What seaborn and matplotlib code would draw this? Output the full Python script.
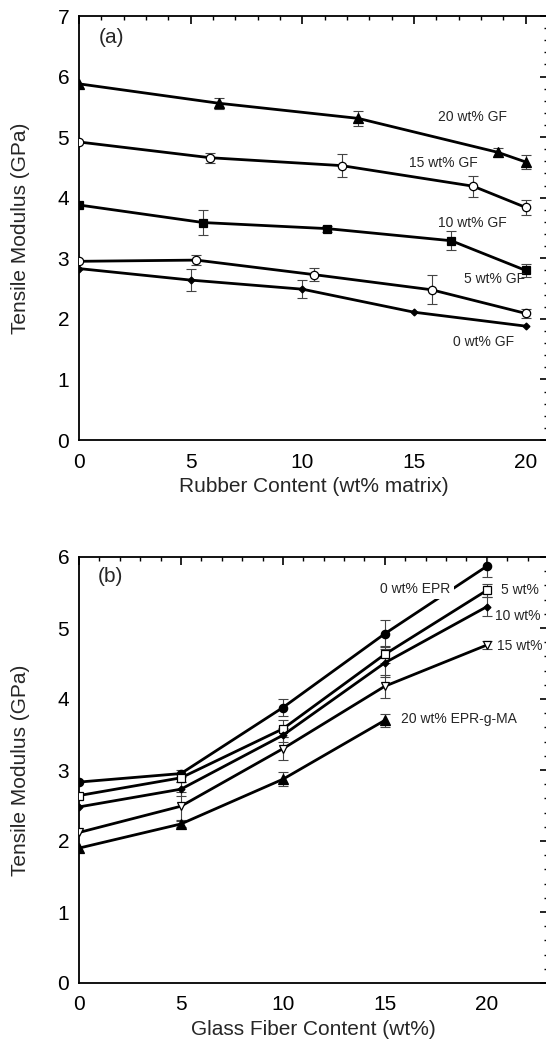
import numpy as np
import pandas as pd
import matplotlib
matplotlib.use("Agg")
import matplotlib.pyplot as plt
import seaborn as sns
from matplotlib.ticker import MultipleLocator

sns.set_theme(style="white")
plt.rcParams['font.family'] = ['Liberation Sans', 'DejaVu Sans']

# ---------------- Panel (a) data ----------------
a_labels = ["20 wt% GF", "15 wt% GF", "10 wt% GF", "5 wt% GF", "0 wt% GF"]
a_x_20 = [0, 6.25, 12.5, 18.75, 20]
a_x_15 = [0, 5.88, 11.76, 17.65, 20]
a_x_10 = [0, 5.56, 11.11, 16.67, 20]
a_x_5 = [0, 5.26, 10.53, 15.79, 20]
a_x_0 = [0, 5.0, 10.0, 15.0, 20]
a_y_20 = [5.88, 5.56, 5.31, 4.75, 4.59]
a_y_15 = [4.92, 4.66, 4.53, 4.19, 3.84]
a_y_10 = [3.88, 3.59, 3.49, 3.29, 2.80]
a_y_5 = [2.95, 2.97, 2.73, 2.48, 2.09]
a_y_0 = [2.83, 2.64, 2.49, 2.11, 1.88]
a_e_20 = [0, 0.09, 0.12, 0.07, 0.11]
a_e_15 = [0, 0.08, 0.19, 0.17, 0.12]
a_e_10 = [0, 0.20, 0.05, 0.16, 0.11]
a_e_5 = [0, 0.085, 0.11, 0.24, 0.08]
a_e_0 = [0, 0.18, 0.15, 0, 0]

# ---------------- Panel (b) data ----------------
b_labels = ["0 wt% EPR", "5 wt%", "10 wt%", "15 wt%", "20 wt% EPR-g-MA"]
b_x = [0, 5, 10, 15, 20]
b_y_0 = [2.83, 2.95, 3.88, 4.92, 5.87]
b_y_5 = [2.64, 2.89, 3.58, 4.63, 5.53]
b_y_10 = [2.48, 2.73, 3.49, 4.51, 5.30]
b_y_15 = [2.12, 2.49, 3.30, 4.18, 4.76]
b_y_20 = [1.90, 2.24, 2.87, 3.70, np.nan]
b_e_0 = [0, 0.05, 0.12, 0.19, 0.15]
b_e_5 = [0, 0.06, 0.12, 0.12, 0.09]
b_e_10 = [0, 0.10, 0.10, 0.20, 0.13]
b_e_15 = [0, 0.20, 0.16, 0.16, 0.06]
b_e_20 = [0, 0.04, 0.10, 0.09, 0]

styles = [
    dict(marker="^", ms=7, mfc="black"),
    dict(marker="o", ms=6, mfc="white"),
    dict(marker="s", ms=6, mfc="black"),
    dict(marker="o", ms=6, mfc="white"),
    dict(marker="D", ms=3.5, mfc="black"),
]
styles_b = [
    dict(marker="o", ms=6, mfc="black"),
    dict(marker="s", ms=6, mfc="white"),
    dict(marker="D", ms=3.5, mfc="black"),
    dict(marker="v", ms=6, mfc="white"),
    dict(marker="^", ms=7, mfc="black"),
]

fig = plt.figure(figsize=(5.46, 10.43), dpi=100)
ax1 = fig.add_axes([79/546, (1043-440)/1043, (548-79)/546, (440-16)/1043])
ax2 = fig.add_axes([79/546, (1043-983)/1043, (548-79)/546, (983-557)/1043])

def draw(ax, xs, ys, es, stys):
    for x, y, e, st in zip(xs, ys, es, stys):
        df = pd.DataFrame({"x": x, "y": y}).dropna()
        sns.lineplot(data=df, x="x", y="y", ax=ax, color="black", lw=2.0,
                     marker=st["marker"], markersize=st["ms"],
                     markerfacecolor=st["mfc"], markeredgecolor="black",
                     markeredgewidth=0.9, zorder=3, legend=False)
        ee = pd.DataFrame({"x": x, "y": y, "e": e}).dropna()
        ee = ee[ee["e"] > 0]
        ax.errorbar(ee["x"], ee["y"], yerr=ee["e"], fmt="none", ecolor="#444444",
                    elinewidth=0.8, capsize=3.5, capthick=0.8, zorder=2)

draw(ax1, [a_x_20, a_x_15, a_x_10, a_x_5, a_x_0],
     [a_y_20, a_y_15, a_y_10, a_y_5, a_y_0],
     [a_e_20, a_e_15, a_e_10, a_e_5, a_e_0], styles)
draw(ax2, [b_x]*5, [b_y_0, b_y_5, b_y_10, b_y_15, b_y_20],
     [b_e_0, b_e_5, b_e_10, b_e_15, b_e_20], styles_b)

for ax in (ax1, ax2):
    ax.xaxis.set_major_locator(MultipleLocator(5))
    ax.xaxis.set_minor_locator(MultipleLocator(1))
    ax.yaxis.set_major_locator(MultipleLocator(1))
    ax.yaxis.set_minor_locator(MultipleLocator(0.2))
    ax.tick_params(which="both", direction="in", top=True, right=True,
                   labelsize=15, colors="black")
    ax.tick_params(axis="x", which="both", pad=9)
    ax.tick_params(axis="y", which="both", pad=7)
    ax.tick_params(which="major", length=6, width=1.2)
    ax.tick_params(which="minor", length=3, width=1.0)
    for s in ax.spines.values():
        s.set_color("black")
        s.set_linewidth(1.3)
    ax.set_ylabel("Tensile Modulus (GPa)", fontsize=15, labelpad=20)

ax1.set_xlim(0, 21)
ax1.set_ylim(0, 7)
ax1.set_xticks([0, 5, 10, 15, 20])
ax1.set_xlabel("Rubber Content (wt% matrix)", fontsize=15, labelpad=4)
ax2.set_xlim(0, 23)
ax2.set_ylim(0, 6)
ax2.set_xticks([0, 5, 10, 15, 20])
ax2.set_xlabel("Glass Fiber Content (wt%)", fontsize=15, labelpad=4)

ax1.text(0.9, 6.65, "(a)", fontsize=15, va="center")
ax2.text(0.9, 5.72, "(b)", fontsize=15, va="center")

# annotations panel (a)
a_pos = [(17.6, 5.33), (16.3, 4.57), (17.6, 3.58), (18.6, 2.65), (18.1, 1.62)]
for (x, y), t in zip(a_pos, a_labels):
    ax1.text(x, y, t, fontsize=10, ha="center", va="center", zorder=5)

# annotations panel (b)
b_pos = [(16.5, 5.55, "center"), (20.7, 5.53, "left"), (20.4, 5.17, "left"),
         (20.5, 4.74, "left"), (15.8, 3.72, "left")]
for i, ((x, y, ha), t) in enumerate(zip(b_pos, b_labels)):
    kw = {}
    if i == 0:
        kw["bbox"] = dict(facecolor="white", edgecolor="none", pad=2.5)
    ax2.text(x, y, t, fontsize=10, ha=ha, va="center", zorder=5, **kw)

fig.savefig("out.png", dpi=100)
